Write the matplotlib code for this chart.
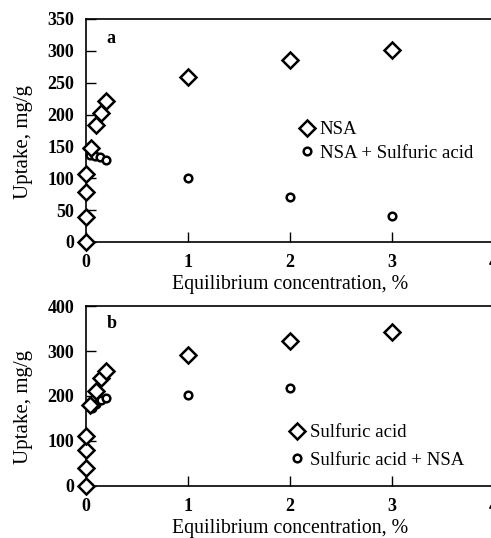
import matplotlib.pyplot as plt

plt.rcParams['font.family'] = ['Liberation Serif', 'DejaVu Serif']

# panel a
nsa_x = [0, 0, 0, 0, 0.05, 0.1, 0.15, 0.2, 1, 2, 3]
nsa_y = [0, 40, 79, 106, 147, 184, 203, 221, 259, 285, 301]
nsa_sulf_x = [0.04, 0.09, 0.14, 0.2, 1, 2, 3]
nsa_sulf_y = [137, 135, 133, 129, 100, 70, 41]

# panel b
sulf_x = [0, 0, 0, 0, 0.04, 0.1, 0.15, 0.2, 1, 2, 3]
sulf_y = [0, 40, 79, 110, 180, 211, 240, 256, 292, 323, 343]
sulf_nsa_x = [0.06, 0.1, 0.15, 0.2, 1, 2]
sulf_nsa_y = [174, 182, 190, 196, 202, 218]

fig = plt.figure(figsize=(4.91, 5.38), dpi=100)
ax1 = fig.add_axes([0.175, 0.5502, 0.83, 0.4145])
ax2 = fig.add_axes([0.175, 0.0967, 0.83, 0.3345])


def style(ax, ymax, yticks, letter, ylab_y):
    ax.set_xlim(0, 4)
    ax.set_ylim(0, ymax)
    ax.set_xticks([0, 1, 2, 3, 4])
    ax.set_yticks(yticks)
    ax.tick_params(direction='in', length=7.5, width=1, labelsize=13)
    ax.tick_params(axis='y', pad=8.5)
    ax.tick_params(axis='x', pad=8.5)
    ax.spines['right'].set_visible(False)
    for s in ['left', 'bottom', 'top']:
        ax.spines[s].set_linewidth(1.2)
    ax.set_xlabel('Equilibrium concentration, %', fontsize=14.3, labelpad=3)
    ax.set_ylabel('Uptake, mg/g', fontsize=15, labelpad=10, y=ylab_y)
    ax.text(0.05, 0.95, letter, transform=ax.transAxes, fontsize=13,
            fontweight='bold', ha='left', va='top')
    for lab in ax.get_xticklabels() + ax.get_yticklabels():
        lab.set_fontweight('bold')


legend_kw = dict(frameon=False, handletextpad=0.3, borderaxespad=0, borderpad=0,
                 handlelength=0.8, prop={'family': 'Liberation Serif', 'size': 13.5})

ax1.plot(nsa_x, nsa_y, 'D', mfc='white', mec='black', ms=8, mew=1.8,
         clip_on=False, label='NSA', zorder=3)
ax1.plot(nsa_sulf_x, nsa_sulf_y, 'o', mfc='white', mec='black', ms=5.5,
         mew=1.8, clip_on=False, label='NSA + Sulfuric acid', zorder=2)
style(ax1, 350, range(0, 351, 50), 'a', 0.45)
ax1.legend(loc='center left', bbox_to_anchor=(0.523, 0.45),
           labelspacing=0.35, **legend_kw)

ax2.plot(sulf_x, sulf_y, 'D', mfc='white', mec='black', ms=8, mew=1.8,
         clip_on=False, label='Sulfuric acid', zorder=3)
ax2.plot(sulf_nsa_x, sulf_nsa_y, 'o', mfc='white', mec='black', ms=5.5,
         mew=1.8, clip_on=False, label='Sulfuric acid + NSA', zorder=2)
style(ax2, 400, range(0, 401, 100), 'b', 0.44)
ax2.legend(loc='center left', bbox_to_anchor=(0.499, 0.22),
           labelspacing=0.55, **legend_kw)

fig.savefig('out.png', dpi=100)
